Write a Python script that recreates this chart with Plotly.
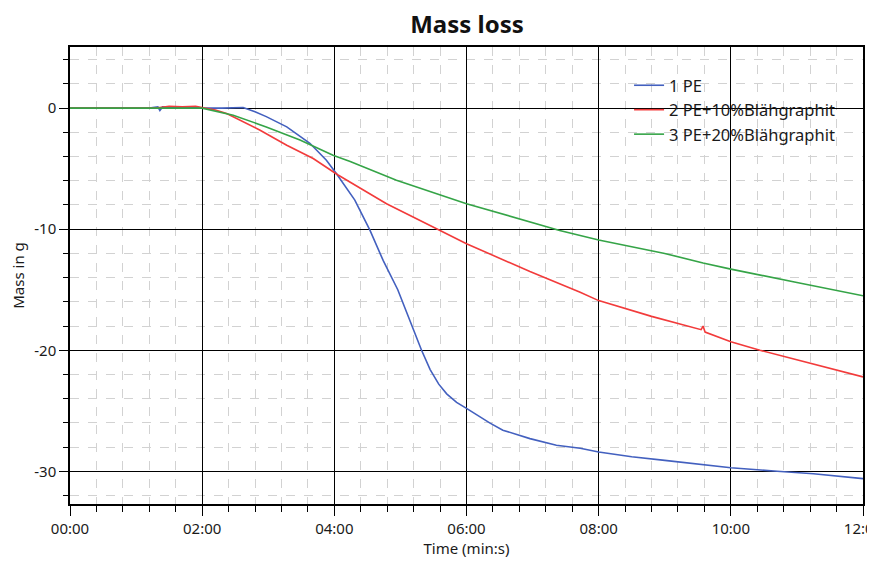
import plotly.graph_objects as go

# ---- data (time in minutes, mass in g) ----
pe_t = [0, 1.2, 1.33, 1.36, 1.4, 1.6, 1.8, 2.0, 2.3, 2.62, 2.8, 2.97, 3.28, 3.63, 3.88, 4.03,
        4.31, 4.54, 4.74, 4.96, 5.14, 5.32, 5.45, 5.58, 5.70, 5.85, 6.0, 6.35, 6.55, 6.96, 7.36, 7.72,
        8.0, 8.5, 9.0, 9.5, 10.0, 10.7, 11.25, 12.0]
pe_m = [0, 0, 0.1, -0.2, 0.1, 0.05, 0.1, 0, 0, 0.05, -0.3, -0.7, -1.55, -2.9, -4.3, -5.4,
        -7.6, -10.1, -12.6, -15.0, -17.5, -20.0, -21.6, -22.8, -23.6, -24.3, -24.8, -26.0, -26.6, -27.3, -27.85, -28.1,
        -28.4, -28.8, -29.1, -29.4, -29.7, -30.0, -30.2, -30.6]

pe10_t = [0, 1.3, 1.5, 1.7, 1.9, 2.0, 2.2, 2.37, 2.87, 3.28, 3.68, 4.05, 4.79, 5.6, 6.0,
          6.96, 7.41, 7.72, 8.0, 8.8, 9.55, 9.58, 9.61, 10.0, 10.44, 11.2, 12.0]
pe10_m = [0, 0, 0.15, 0.1, 0.15, 0.05, -0.15, -0.45, -1.8, -3.06, -4.16, -5.5, -7.9, -10.1, -11.2,
          -13.5, -14.5, -15.2, -15.9, -17.2, -18.3, -18.0, -18.5, -19.3, -20.0, -21.1, -22.2]

pe20_t = [0, 1.5, 2.0, 2.47, 2.97, 3.48, 3.98, 4.24, 4.94, 6.0, 7.0, 7.41, 8.0, 9.0, 9.58,
          10.0, 11.0, 12.0]
pe20_m = [0, 0, 0, -0.58, -1.55, -2.64, -3.9, -4.4, -5.95, -7.9, -9.5, -10.1, -10.9, -12.0, -12.8,
          -13.3, -14.4, -15.5]

series_names = ["1 PE", "2 PE+10%Blähgraphit", "3 PE+20%Blähgraphit"]
series_colors = ["#4360bf", "#f23b3b", "#35a447"]

x_tickvals = [0, 2, 4, 6, 8, 10, 12]
x_ticktext = ["00:00", "02:00", "04:00", "06:00", "08:00", "10:00", "12:00"]
y_tickvals = [0, -10, -20, -30]
y_ticktext = ["0", "-10", "-20", "-30"]

FONT = "Noto Sans"

fig = go.Figure()
for t, m, name, col in zip([pe_t, pe10_t, pe20_t], [pe_m, pe10_m, pe20_m], series_names, series_colors):
    fig.add_trace(go.Scatter(x=t, y=m, mode="lines", name=name,
                             line=dict(color=col, width=1.6)))

fig.update_layout(
    width=875, height=566,
    margin=dict(l=62, r=20, t=39, b=70),
    paper_bgcolor="white", plot_bgcolor="white",
    font=dict(family=FONT, color="#1a1a1a"),
    title=dict(text="<b>Mass loss</b>", x=0.5246, xanchor="center", y=0.97, yanchor="middle",
               font=dict(size=24, family=FONT, color="#111111")),
    legend=dict(x=0.705, y=0.954, xanchor="left", yanchor="top", bgcolor="rgba(0,0,0,0)",
                font=dict(size=16.5, family=FONT, color="#1a1a1a"), tracegroupgap=0),
    showlegend=True,
)

fig.update_xaxes(
    range=[0, 12], tickvals=x_tickvals, ticktext=x_ticktext,
    showgrid=True, gridcolor="black", gridwidth=1.3, zeroline=False,
    showline=True, linecolor="black", linewidth=1.5, mirror=True,
    ticks="outside", ticklen=10, tickcolor="black", tickwidth=1.3,
    tickfont=dict(size=15, family=FONT, color="#1a1a1a"),
    ticklabeloverflow="allow", automargin=False,
    title=dict(text="Time (min:s)", font=dict(size=15, family=FONT, color="#1a1a1a"), standoff=5),
    minor=dict(dtick=0.4, tick0=0, showgrid=True, gridcolor="#d2d2d2", griddash="dash", gridwidth=1,
               ticks="outside", ticklen=6, tickcolor="black", tickwidth=1.3),
)
fig.update_yaxes(
    range=[-32.7, 5.05], tickvals=y_tickvals, ticktext=y_ticktext,
    showgrid=True, gridcolor="black", gridwidth=1.3, zeroline=False,
    showline=True, linecolor="black", linewidth=1.5, mirror=True,
    ticks="outside", ticklen=9, tickcolor="black", tickwidth=1.3,
    tickfont=dict(size=15, family=FONT, color="#1a1a1a"),
    automargin=False,
    title=dict(text="Mass in g", font=dict(size=15, family=FONT, color="#1a1a1a"), standoff=10),
    minor=dict(dtick=2, tick0=0, showgrid=True, gridcolor="#d2d2d2", griddash="dash", gridwidth=1,
               ticks="outside", ticklen=5, tickcolor="black", tickwidth=1.3),
)

fig.write_html("out.html")
